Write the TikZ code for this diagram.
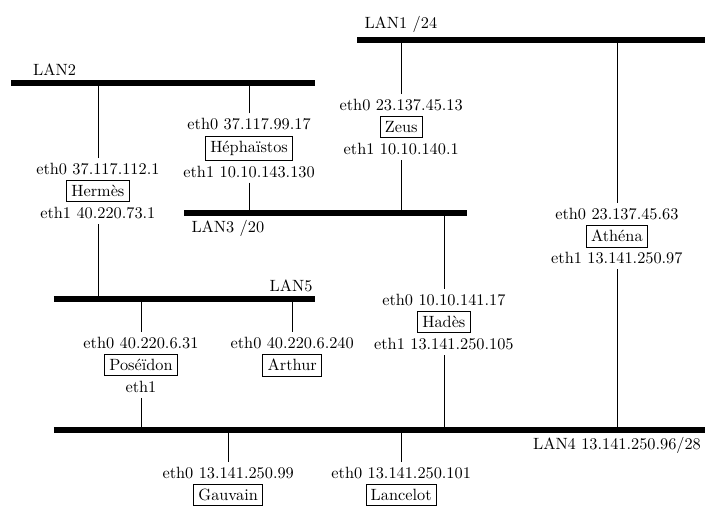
\documentclass[tikz,border=0pt]{standalone}
\usepackage{tikz}
\usetikzlibrary{positioning}

\begin{document}
\begin{tikzpicture}[
  node distance=0pt,
  host/.style={draw,inner sep=3pt},
  ip/.style={inner sep=3pt},
  bus/.style={line width=3.6pt},
  lnk/.style={thin}
]
  \useasboundingbox (0,0) rectangle (15.545,11.211);

  \coordinate (lan1w) at (7.70,10.35);  \coordinate (lan1e) at (15.20,10.35);
  \coordinate (lan2w) at (0.24,9.42);   \coordinate (lan2e) at (6.79,9.42);
  \coordinate (lan3w) at (3.97,6.62);   \coordinate (lan3e) at (10.07,6.62);
  \coordinate (lan5w) at (1.16,4.76);   \coordinate (lan5e) at (6.79,4.76);
  \coordinate (lan4w) at (1.16,1.94);   \coordinate (lan4e) at (15.20,1.94);

  \draw[bus] (lan1w) -- (lan1e);
  \draw[bus] (lan2w) -- (lan2e);
  \draw[bus] (lan3w) -- (lan3e);
  \draw[bus] (lan5w) -- (lan5e);
  \draw[bus] (lan4w) -- (lan4e);

  \node[above right, yshift=1pt, xshift=1pt] (lan1l) at (lan1w) {LAN1 /24};
  \node[above right, yshift=1pt, xshift=10pt] (lan2l) at (lan2w) {LAN2};
  \node[below right, yshift=-1pt, xshift=1pt] (lan3l) at (lan3w) {LAN3 /20};
  \node[above left, yshift=1pt, xshift=2pt] (lan5l) at (lan5e) {LAN5};
  \node[below left, yshift=-1pt, xshift=1pt] (lan4l) at (lan4e) {LAN4 13.141.250.96/28};

  \node[host] (zeus) at (8.65,8.47) {Zeus};
  \node[ip, above=of zeus] (zeus0) {eth0 23.137.45.13};
  \node[ip, below=of zeus] (zeus1) {eth1 10.10.140.1};

  \node[host] (athena) at (13.30,6.12) {Athéna};
  \node[ip, above=of athena] (athena0) {eth0 23.137.45.63};
  \node[ip, below=of athena] (athena1) {eth1 13.141.250.97};

  \node[host] (hephaistos) at (5.37,8.02) {Héphaïstos};
  \node[ip, above=of hephaistos] (hephaistos0) {eth0 37.117.99.17};
  \node[ip, below=of hephaistos] (hephaistos1) {eth1 10.10.143.130};

  \node[host] (hermes) at (2.11,7.09) {Hermès};
  \node[ip, above=of hermes] (hermes0) {eth0 37.117.112.1};
  \node[ip, below=of hermes] (hermes1) {eth1 40.220.73.1};

  \node[host] (hades) at (9.57,4.27) {Hadès};
  \node[ip, above=of hades] (hades0) {eth0 10.10.141.17};
  \node[ip, below=of hades] (hades1) {eth1 13.141.250.105};

  \node[host] (poseidon) at (3.04,3.34) {Poséïdon};
  \node[ip, above=of poseidon] (poseidon0) {eth0 40.220.6.31};
  \node[ip, below=of poseidon] (poseidon1) {eth1};

  \node[host] (arthur) at (6.30,3.34) {Arthur};
  \node[ip, above=of arthur] (arthur0) {eth0 40.220.6.240};

  \node[host] (gauvain) at (4.92,0.54) {Gauvain};
  \node[ip, above=of gauvain] (gauvain0) {eth0 13.141.250.99};

  \node[host] (lancelot) at (8.65,0.54) {Lancelot};
  \node[ip, above=of lancelot] (lancelot0) {eth0 13.141.250.101};

  \draw[lnk] (zeus0) -- (zeus0 |- lan1w);
  \draw[lnk] (zeus1) -- (zeus1 |- lan3w);
  \draw[lnk] (athena0) -- (athena0 |- lan1w);
  \draw[lnk] (athena1) -- (athena1 |- lan4w);
  \draw[lnk] (hephaistos0) -- (hephaistos0 |- lan2w);
  \draw[lnk] (hephaistos1) -- (hephaistos1 |- lan3w);
  \draw[lnk] (hermes0) -- (hermes0 |- lan2w);
  \draw[lnk] (hermes1) -- (hermes1 |- lan5w);
  \draw[lnk] (hades0) -- (hades0 |- lan3w);
  \draw[lnk] (hades1) -- (hades1 |- lan4w);
  \draw[lnk] (poseidon0) -- (poseidon0 |- lan5w);
  \draw[lnk] (poseidon1) -- (poseidon1 |- lan4w);
  \draw[lnk] (arthur0) -- (arthur0 |- lan5w);
  \draw[lnk] (gauvain0) -- (gauvain0 |- lan4w);
  \draw[lnk] (lancelot0) -- (lancelot0 |- lan4w);
\end{tikzpicture}
\end{document}
